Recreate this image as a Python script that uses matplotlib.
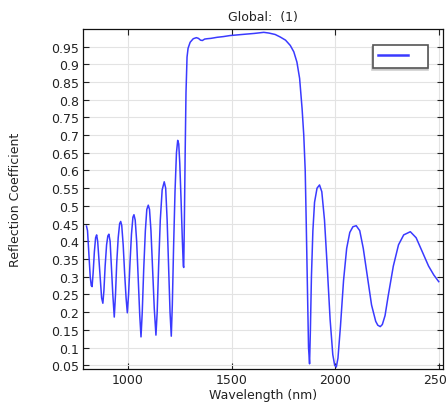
import numpy as np
import matplotlib
matplotlib.use('Agg')
import matplotlib.pyplot as plt

#font
matplotlib.rcParams['font.family'] = 'DejaVu Sans'

#data
wavelength = [800, 805, 812, 818, 823, 827, 832, 838, 844, 849, 854, 860, 867, 873, 879,
	884, 890, 897, 903, 908, 914, 920, 927, 934, 940, 946, 953, 960, 965, 970,
	977, 984, 991, 997, 1003, 1010, 1017, 1024, 1029, 1035, 1042, 1050, 1057, 1063,
	1069, 1076, 1084, 1091, 1098, 1104, 1111, 1119, 1127, 1135, 1141, 1148, 1156,
	1165, 1175, 1182, 1189, 1196, 1203, 1209, 1214, 1220, 1227, 1234, 1240, 1245,
	1250, 1256, 1262, 1267, 1269, 1272, 1276, 1280, 1285, 1290, 1300, 1315, 1330,
	1340, 1350, 1359, 1370, 1382, 1400, 1430, 1460, 1493, 1530, 1570, 1610, 1640,
	1655, 1680, 1710, 1734, 1760, 1783, 1800, 1815, 1828, 1840, 1848, 1855, 1860,
	1866, 1871, 1876, 1880, 1885, 1892, 1900, 1912, 1924, 1935, 1948, 1962, 1975,
	1988, 1997, 2005, 2013, 2025, 2040, 2055, 2070, 2085, 2101, 2118, 2135, 2155,
	2175, 2195, 2205, 2217, 2227, 2240, 2255, 2280, 2305, 2330, 2362, 2390, 2420,
	2450, 2475, 2499]
reflection = [0.443, 0.43, 0.36, 0.30, 0.275, 0.272, 0.31, 0.37, 0.41, 0.418, 0.40, 0.35, 0.29, 0.24, 0.225,
	0.26, 0.33, 0.39, 0.415, 0.42, 0.40, 0.33, 0.25, 0.186, 0.25, 0.34, 0.41, 0.45, 0.456, 0.445,
	0.39, 0.31, 0.24, 0.198, 0.25, 0.34, 0.42, 0.468, 0.475, 0.46, 0.40, 0.29, 0.19, 0.13,
	0.20, 0.32, 0.43, 0.49, 0.502, 0.49, 0.43, 0.32, 0.21, 0.135, 0.20, 0.33, 0.46,
	0.545, 0.568, 0.55, 0.46, 0.33, 0.20, 0.132, 0.22, 0.38, 0.54, 0.65, 0.685, 0.675,
	0.62, 0.52, 0.41, 0.33, 0.326, 0.45, 0.65, 0.82, 0.92, 0.945, 0.962, 0.972, 0.975,
	0.973, 0.968, 0.967, 0.971, 0.972, 0.973, 0.976, 0.978, 0.981, 0.983, 0.985, 0.987, 0.989,
	0.99, 0.988, 0.984, 0.977, 0.968, 0.953, 0.935, 0.906, 0.86, 0.774, 0.70, 0.60, 0.45,
	0.25, 0.10, 0.054, 0.15, 0.30, 0.43, 0.51, 0.55, 0.559, 0.54, 0.46, 0.32, 0.18,
	0.08, 0.05, 0.045, 0.07, 0.16, 0.29, 0.38, 0.425, 0.441, 0.444, 0.43, 0.38, 0.30,
	0.22, 0.174, 0.163, 0.159, 0.165, 0.19, 0.245, 0.33, 0.39, 0.418, 0.427, 0.41, 0.37,
	0.33, 0.305, 0.286]
xticks = [1000, 1500, 2000, 2500]
yticks = [0.05, 0.1, 0.15, 0.2, 0.25, 0.3, 0.35, 0.4, 0.45, 0.5,
	0.55, 0.6, 0.65, 0.7, 0.75, 0.8, 0.85, 0.9, 0.95]
ytick_labels = ['0.05', '0.1', '0.15', '0.2', '0.25', '0.3', '0.35', '0.4', '0.45', '0.5',
	'0.55', '0.6', '0.65', '0.7', '0.75', '0.8', '0.85', '0.9', '0.95']

fig = plt.figure(figsize=(4.46, 4.14), dpi=100)
ax = fig.add_axes([0.186, 0.106, 0.807, 0.822])

line, = ax.plot(wavelength, reflection, color='#3a3aff', linewidth=1.1)

ax.set_xlim(783, 2519)
ax.set_ylim(0.039, 1.0)
ax.set_xticks(xticks)
ax.set_yticks(yticks)
ax.set_yticklabels(ytick_labels)
ax.tick_params(direction='in', top=True, right=True, labelsize=9,
	length=4, width=0.8, pad=3, colors='#222222')
ax.grid(True, color='#e3e3e3', linewidth=0.8)
ax.set_axisbelow(True)
for s in ax.spines.values():
	s.set_color('#111111')
	s.set_linewidth(0.9)

ax.set_title('Global:  (1)', fontsize=9, color='#222222', pad=6)
ax.set_xlabel('Wavelength (nm)', fontsize=9, color='#222222', labelpad=1)
ax.set_ylabel('Reflection Coefficient', fontsize=9, color='#222222', labelpad=21)

#legend with empty label, just the blue line in a box
leg = ax.legend([line], ['  '], loc='upper right', bbox_to_anchor=(0.977, 0.972),
	fancybox=False, shadow={'ox': -0.5, 'oy': -1.5, 'color': '#c4c4c4', 'alpha': 0.8},
	edgecolor='#555555', handlelength=2.4, handletextpad=0.6, borderpad=0.4, fontsize=9)
leg.get_frame().set_linewidth(1.2)
leg.get_lines()[0].set_linewidth(1.8)

fig.savefig('out.png', dpi=100)
